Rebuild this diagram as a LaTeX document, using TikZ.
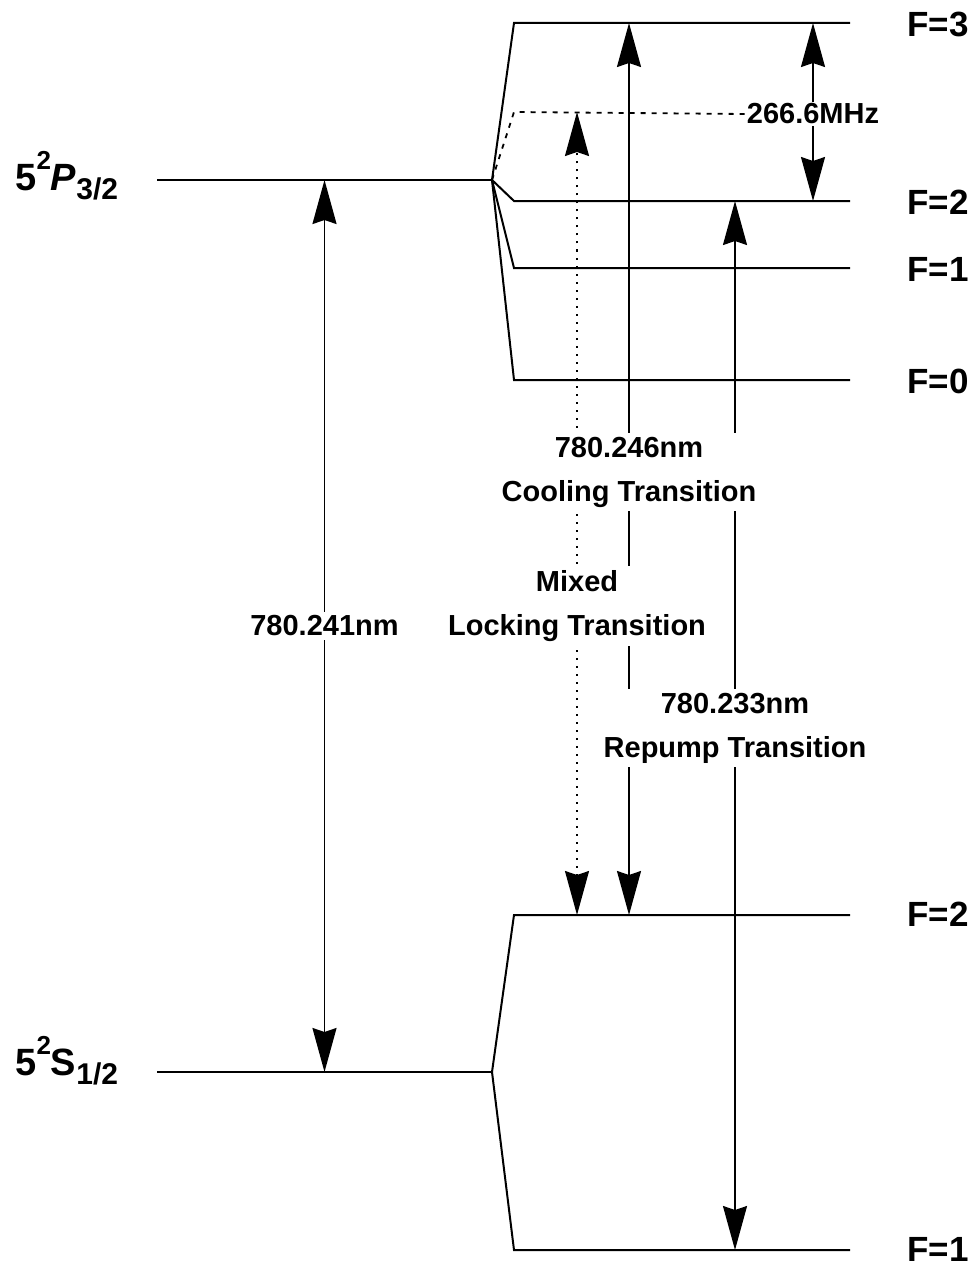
\documentclass[tikz,border=0pt]{standalone}
\usepackage{fontspec}
\setmainfont{Liberation Sans}
\usetikzlibrary{arrows.meta, positioning, calc}

\begin{document}
\begin{tikzpicture}[x=0.5pt, y=-0.5pt,
  level/.style={line width=1pt},
  trans/.style={line width=0.9pt, {Stealth[length=22pt,width=12pt,inset=2pt]}-{Stealth[length=22pt,width=12pt,inset=2pt]}},
  lockline/.style={trans, dash pattern=on 1pt off 3pt},
  vdash/.style={line width=0.9pt, dash pattern=on 2.5pt off 3pt},
  tlbl/.style={font=\bfseries\fontsize{14.5}{22}\selectfont, align=center, fill=white, inner sep=2pt},
  flbl/.style={font=\bfseries\fontsize{17.5}{20}\selectfont, anchor=west, inner sep=0pt},
  term/.style={font=\bfseries\fontsize{19}{22}\selectfont, anchor=base west, inner sep=0pt}]
  \useasboundingbox (0,0) rectangle (976,1268);
  % fine structure terms
  \node[term] (pterm) at (15,190) {5\raisebox{0.55em}{\fontsize{13}{13}\selectfont 2}\textit{P}\raisebox{-0.25em}{\fontsize{15}{15}\selectfont 3/2}};
  \node[term] (sterm) at (15,1075) {5\raisebox{0.55em}{\fontsize{13}{13}\selectfont 2}S\raisebox{-0.25em}{\fontsize{15}{15}\selectfont 1/2}};
  \coordinate (pL) at (157,180); \coordinate (pj) at (492,180);
  \coordinate (sL) at (157,1072); \coordinate (sj) at (492,1072);
  \draw[level] (pL) -- (pj);
  \draw[level] (sL) -- (sj);
  % hyperfine levels
  \foreach \n/\y/\f in {p3/23/3, p2/201/2, p1/268/1, p0/380/0} {
    \coordinate (\n w) at (514,\y); \coordinate (\n e) at (850,\y);
    \draw[level] (pj) -- (\n w) -- (\n e);
    \node[flbl] (\n lbl) at (907,\y+1) {F=\f};
  }
  \foreach \n/\y/\f in {s2/915/2, s1/1250/1} {
    \coordinate (\n w) at (514,\y); \coordinate (\n e) at (850,\y);
    \draw[level] (sj) -- (\n w) -- (\n e);
    \node[flbl] (\n lbl) at (907,\y-1) {F=\f};
  }
  % crossover level
  \coordinate (vl) at (514,112);
  \node[tlbl, inner sep=1pt] (mhz) at (813,114) {266.6MHz};
  \draw[vdash] (pj) -- (vl) -- (mhz.west);
  % transitions
  \coordinate (xcool) at (629,0); \coordinate (xrep) at (735,0);
  \coordinate (xlock) at (577,0); \coordinate (xmhz) at (813,0);
  \draw[trans] ($(pL)!.5!(pj)$) -- ($(sL)!.5!(sj)$);
  \draw[trans] (xcool |- s2w) -- (xcool |- p3w);
  \draw[trans] (xrep |- s1w) -- (xrep |- p2w);
  \draw[lockline] (xlock |- s2w) -- (xlock |- vl);
  \draw[trans] (xmhz |- p3w) -- (xmhz |- p2w);
  \node[tlbl, inner sep=1pt] at (mhz) {266.6MHz};
  % labels
  \node[tlbl] (d2) at ($(pL)!.5!(sj)$) {780.241nm};
  \node[tlbl] (cool) at (629,472) {780.246nm\\Cooling Transition};
  \node[tlbl] (lock) at (577,606) {Mixed\\Locking Transition};
  \node[tlbl] (rep) at (735,728) {780.233nm\\Repump Transition};
\end{tikzpicture}
\end{document}
